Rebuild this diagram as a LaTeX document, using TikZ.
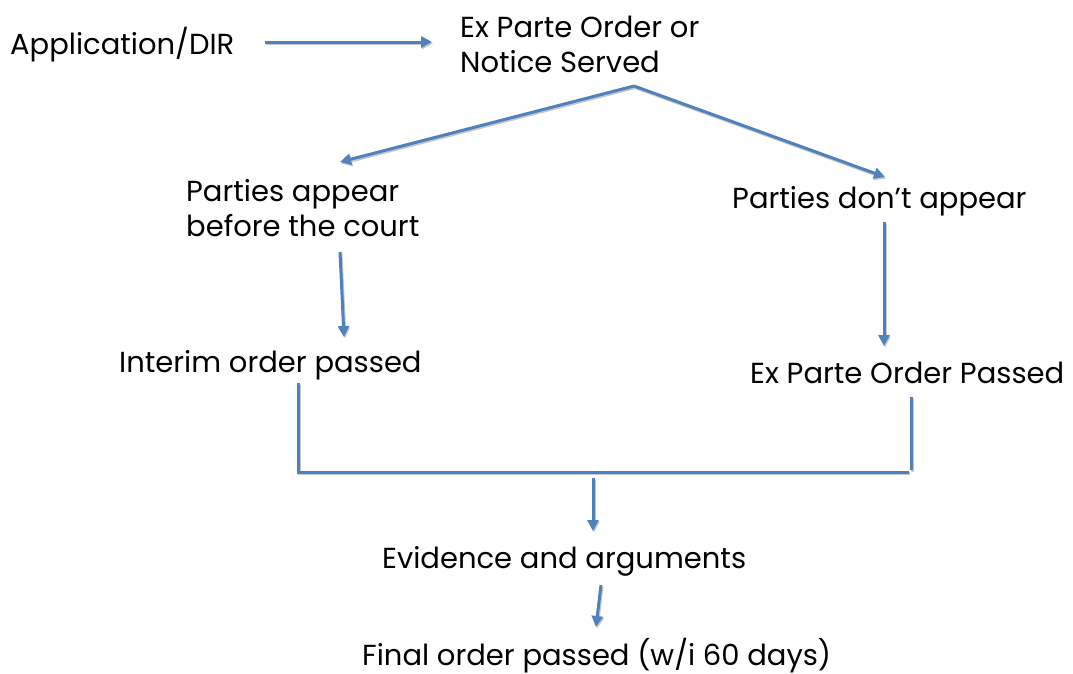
\documentclass[tikz,border=0pt]{standalone}
\usepackage{fontspec}
\setmainfont{Poppins}
\usetikzlibrary{arrows.meta}
\definecolor{flowblue}{HTML}{4F81BD}
\begin{document}
\begin{tikzpicture}[x=1pt,y=-1pt,
  lbl/.style={anchor=base west,inner sep=0pt,font=\fontsize{29}{35}\selectfont,align=left},
  link/.style={draw=flowblue,line width=3pt,
    preaction={draw=black!22,line width=3pt,transform canvas={shift={(1pt,-1.5pt)}}}},
  arr/.style={link,-{Triangle[length=11pt,width=11pt]}}]
\useasboundingbox (0,0) rectangle (1073,673);

% labels (two-line labels are placed by the baseline of their last line)
\node[lbl] (app) at (10,54) {Application/DIR};
\node[lbl] (exo) at (460,72) {Ex Parte Order or\\Notice Served};
\node[lbl] (pa) at (186,236) {Parties appear\\before the court};
\node[lbl] (pd) at (732,208) {Parties don’t appear};
\node[lbl] (io) at (119,372) {Interim order passed};
\node[lbl] (ep) at (750,383) {Ex Parte Order Passed};
\node[lbl] (ev) at (382,568) {Evidence and arguments};
\node[lbl] (fo) at (362,665) {Final order passed (w/i 60 days)};

% connector end points
\coordinate (appR) at (265,42);
\coordinate (exoL) at (432,42);
\coordinate (exoB) at (634,86);
\coordinate (paT) at (340,162);
\coordinate (pdT) at (885,177);
\coordinate (paB) at (340,252);
\coordinate (ioT) at (344,337);
\coordinate (pdB) at (884,222);
\coordinate (epT) at (884,346);
\coordinate (ioB) at (298,383);
\coordinate (joinL) at (298,472);
\coordinate (joinR) at (909,472);
\coordinate (epB) at (911,397);
\coordinate (epJ) at (911,470);
\coordinate (joinM) at (593,478);
\coordinate (evT) at (593,531);
\coordinate (evB) at (601,585);
\coordinate (foT) at (596,627);

% connectors
\draw[arr] (appR) -- (exoL);
\draw[arr] (exoB) -- (paT);
\draw[arr] (exoB) -- (pdT);
\draw[arr] (paB) -- (ioT);
\draw[arr] (pdB) -- (epT);
\draw[link] (ioB) -- (joinL) -- (joinR);
\draw[link] (epB) -- (epJ);
\draw[arr] (joinM) -- (evT);
\draw[arr] (evB) -- (foT);
\end{tikzpicture}
\end{document}
